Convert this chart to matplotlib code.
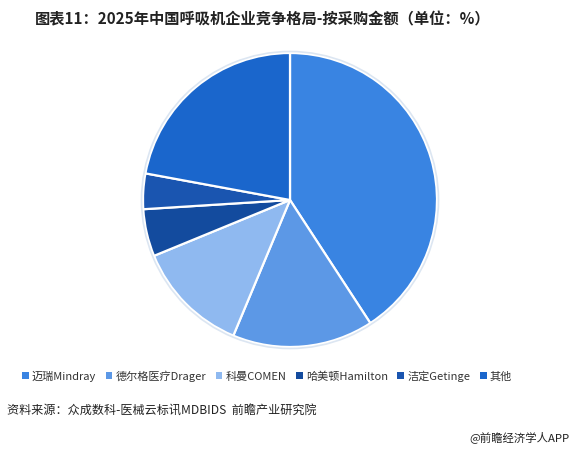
import matplotlib
matplotlib.use('Agg')
import matplotlib.pyplot as plt
from matplotlib.patches import Patch

plt.rcParams['font.family'] = ['Noto Sans CJK SC', 'DejaVu Sans']

# 2025年中国呼吸机企业竞争格局（按采购金额，%）
companies = ['迈瑞Mindray', '德尔格医疗Drager', '科曼COMEN', '哈美顿Hamilton', '洁定Getinge', '其他']
shares = [40.8, 15.5, 12.5, 5.2, 3.9, 22.1]
colors = ['#3984E2', '#5C98E6', '#8FB9F0', '#134B9E', '#1A55B0', '#1A66CC']

fig = plt.figure(figsize=(5.73, 4.51), dpi=100)
ax = fig.add_axes([290 / 573 - 150 / 573, 1 - 350 / 451, 300 / 573, 300 / 451])
ax.pie(shares, colors=colors, startangle=90, counterclock=False, radius=0.98,
       wedgeprops=dict(edgecolor='white', linewidth=1.6))
# faint outline around the pie
ax.pie([1], colors=['none'], radius=0.99,
       wedgeprops=dict(edgecolor='#dce6f2', linewidth=1.2, fill=False))
ax.set_xlim(-1, 1)
ax.set_ylim(-1, 1)
ax.set_aspect('equal')

fig.text(263 / 573, 1 - 19 / 451, '图表11：2025年中国呼吸机企业竞争格局-按采购金额（单位：%）',
         ha='center', va='center', fontsize=11, fontweight='bold', color='#222222')

handles = [Patch(facecolor=c, edgecolor='none') for c in colors]
fig.legend(handles, companies, loc='center', bbox_to_anchor=(267 / 573, 1 - 376 / 451),
           ncol=6, frameon=False, fontsize=8, handlelength=0.6, handleheight=0.6,
           handletextpad=0.3, columnspacing=0.85, labelcolor='#333333')

fig.text(7 / 573, 1 - 411 / 451, '资料来源：众成数科-医械云标讯MDBIDS  前瞻产业研究院',
         ha='left', va='center', fontsize=8.7, color='#222222')
fig.text(570 / 573, 1 - 437 / 451, '@前瞻经济学人APP',
         ha='right', va='center', fontsize=8.2, color='#222222')

fig.savefig('out.png', dpi=100)
